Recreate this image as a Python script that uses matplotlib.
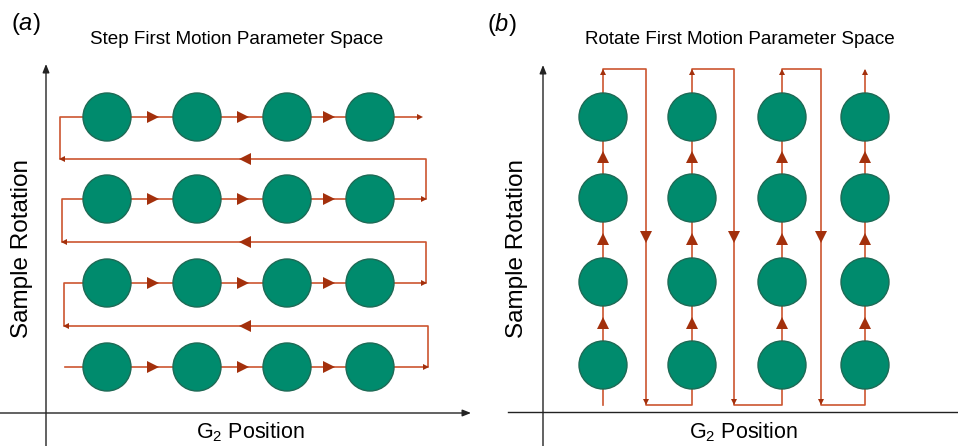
import matplotlib
matplotlib.use("Agg")
import matplotlib.pyplot as plt
from matplotlib.patches import Circle

plt.rcParams['font.family'] = ['Liberation Sans', 'DejaVu Sans']
plt.rcParams['mathtext.fontset'] = 'custom'
plt.rcParams['mathtext.rm'] = 'Liberation Sans'
plt.rcParams['mathtext.it'] = 'Liberation Sans:italic'

# ---- data: grid positions (pixel space of the diagram) ----
cols_a = [107, 197, 287, 370]
rows_a = [367, 283, 199, 117]          # bottom -> top
right_turn_a = [428, 426, 426]         # x of right verticals (bottom -> top)
left_turn_a = [64, 62, 60]             # x of left verticals
return_y_a = [326, 242, 159]           # y of return lines
start_x_a = 65
end_x_a = 420

cols_b = [603, 692, 782, 865]
rows_b = [365, 282, 198, 117]          # bottom -> top
down_x_b = [646, 734, 821]
top_y_b = 69
bottom_y_b = 405

titles = ["Step First Motion Parameter Space", "Rotate First Motion Parameter Space"]
xlabel = r"G$_2$ Position"
ylabel = "Sample Rotation"

CIRC = "#008B6D"
CEDGE = "#1D6A55"
LINE = "#CC5530"
HEAD = "#A3300C"
R = 24

fig = plt.figure(figsize=(9.58, 4.46), dpi=100)
ax = fig.add_axes([0, 0, 1, 1])
ax.set_xlim(0, 958)
ax.set_ylim(446, 0)
ax.axis('off')

def arrow_axis(x0, y0, x1, y1):
    ax.annotate("", xy=(x1, y1), xytext=(x0, y0),
                arrowprops=dict(arrowstyle='-|>,head_length=0.5,head_width=0.2',
                                color='#222222', lw=1.0, shrinkA=0, shrinkB=0))

# ---------- Panel (a) ----------
path_x = [start_x_a]
path_y = [rows_a[0]]
small_heads = []
for i in range(3):
    path_x += [right_turn_a[i], right_turn_a[i], left_turn_a[i], left_turn_a[i]]
    path_y += [rows_a[i], return_y_a[i], return_y_a[i], rows_a[i + 1]]
    small_heads.append((right_turn_a[i] - 2, rows_a[i], '>'))
    small_heads.append((left_turn_a[i] + 2, return_y_a[i], '<'))
path_x.append(end_x_a)
path_y.append(rows_a[3])
small_heads.append((end_x_a, rows_a[3], '>'))
ax.plot(path_x, path_y, color=LINE, lw=1.2, zorder=1)
for x, y, m in small_heads:
    ax.plot(x, y, marker=m, color=HEAD, ms=4.5, zorder=2, mew=0)
for y in rows_a:
    for j in range(3):
        xm = (cols_a[j] + R + cols_a[j + 1] - R) / 2
        ax.plot(xm + 1, y, marker='>', color=HEAD, ms=9, mew=0, zorder=2)
for y in return_y_a:
    ax.plot((cols_a[1] + cols_a[2]) / 2 + 3, y, marker='<', color=HEAD, ms=9, mew=0, zorder=2)
for y in rows_a:
    for x in cols_a:
        ax.add_patch(Circle((x, y), R, facecolor=CIRC, edgecolor=CEDGE, lw=1.0, zorder=3))

arrow_axis(46, 446, 46, 64)
arrow_axis(0, 413, 471, 413)
ax.text(11, 24, r"($\mathit{a}$)", fontsize=17, ha='left', va='center')
ax.text(237, 40, titles[0], fontsize=13.6, ha='center', va='center')
ax.text(22, 248, ylabel, fontsize=17.5, rotation=90, ha='center', va='center')
ax.text(250, 432, xlabel, fontsize=15.5, ha='center', va='center')

# ---------- Panel (b) ----------
px = [cols_b[0]]
py = [bottom_y_b]
heads_b = []
for j in range(3):
    px += [cols_b[j], down_x_b[j], down_x_b[j], cols_b[j + 1]]
    py += [top_y_b, top_y_b, bottom_y_b, bottom_y_b]
    heads_b.append((cols_b[j], top_y_b + 3, '^'))
    heads_b.append((down_x_b[j], bottom_y_b - 3, 'v'))
px += [cols_b[3]]
py += [top_y_b + 2]
heads_b.append((cols_b[3], top_y_b + 3, '^'))
ax.plot(px, py, color=LINE, lw=1.2, zorder=1)
for x, y, m in heads_b:
    ax.plot(x, y, marker=m, color=HEAD, ms=4.5, mew=0, zorder=2)
for x in cols_b:
    for i in range(3):
        ym = (rows_b[i] + rows_b[i + 1]) / 2
        ax.plot(x, ym - 1, marker='^', color=HEAD, ms=9, mew=0, zorder=2)
for x in down_x_b:
    ax.plot(x, (rows_b[1] + rows_b[2]) / 2 - 3, marker='v', color=HEAD, ms=9, mew=0, zorder=2)
for y in rows_b:
    for x in cols_b:
        ax.add_patch(Circle((x, y), R, facecolor=CIRC, edgecolor=CEDGE, lw=1.0, zorder=3))

arrow_axis(543, 446, 543, 65)
ax.plot([508, 958], [412, 412], color='#222222', lw=1.0)
ax.text(487, 24, r"($\mathit{b}$)", fontsize=17, ha='left', va='center')
ax.text(740, 40, titles[1], fontsize=13.6, ha='center', va='center')
ax.text(517, 248, ylabel, fontsize=17.5, rotation=90, ha='center', va='center')
ax.text(743, 432, xlabel, fontsize=15.5, ha='center', va='center')

fig.savefig("out.png", dpi=100)
